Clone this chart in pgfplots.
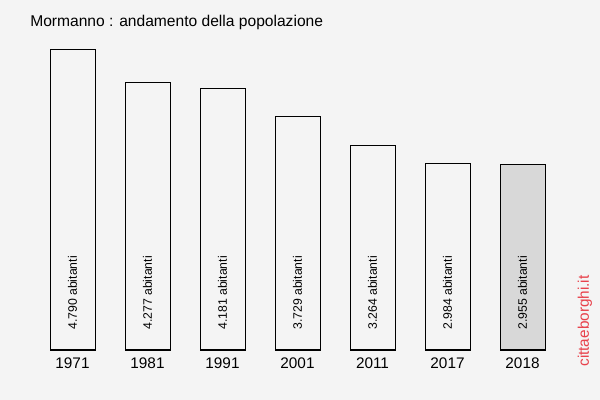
\documentclass[border=0pt]{standalone}
\usepackage{pgfplots}
\pgfplotsset{compat=1.18}
\usepackage{fontspec}
\setmainfont{Liberation Sans}
\definecolor{bgc}{HTML}{F4F4F4}
\definecolor{lastc}{HTML}{D8D8D8}
\definecolor{wm}{HTML}{E8404A}
\begin{document}
\begin{tikzpicture}
\fill[bgc] (0,0) rectangle (450pt,300pt);
\node[anchor=west, inner sep=0, font=\fontsize{11.7}{13}\selectfont] at (22.5pt,283.5pt) {Mormanno : andamento della popolazione};
\node[rotate=90, inner sep=0, text=wm, font=\fontsize{11.5}{13}\selectfont] at (438.75pt,59.25pt) {cittaeborghi.it};
\begin{axis}[
  at={(-1.875pt,37.5pt)}, anchor=south west,
  scale only axis, width=450pt, height=262.5pt,
  xmin=-1, xmax=7, ymin=0, ymax=5588.33,
  axis line style={draw=none},
  major tick length=0pt,
  ytick=\empty,
  xtick={0,1,2,3,4,5,6},
  xticklabels={1971,1981,1991,2001,2011,2017,2018},
  xticklabel style={font=\fontsize{11.5}{13}\selectfont, anchor=center, yshift=-10pt},
  /pgf/number format/assume math mode=true,
  clip=false,
]
\addplot[ybar, bar shift=0pt, bar width=0.6, fill=bgc, draw=black, line width=0.75pt]
  coordinates {(0,4790) (1,4277) (2,4181) (3,3729) (4,3264) (5,2984)};
\addplot[ybar, bar shift=0pt, bar width=0.6, fill=lastc, draw=black, line width=0.75pt]
  coordinates {(6,2955)};
\addplot[draw=none, mark=none, point meta=explicit symbolic,
  nodes near coords,
  every node near coord/.style={rotate=90, anchor=west, inner sep=0pt, font=\fontsize{9.2}{11}\selectfont, text=black}]
  coordinates {
    (0,319) [4.790 abitanti]
    (1,319) [4.277 abitanti]
    (2,319) [4.181 abitanti]
    (3,319) [3.729 abitanti]
    (4,319) [3.264 abitanti]
    (5,319) [2.984 abitanti]
    (6,319) [2.955 abitanti]
  };
\end{axis}
\pgfresetboundingbox
\path[use as bounding box] (0,0) rectangle (450pt,300pt);
\end{tikzpicture}
\end{document}
